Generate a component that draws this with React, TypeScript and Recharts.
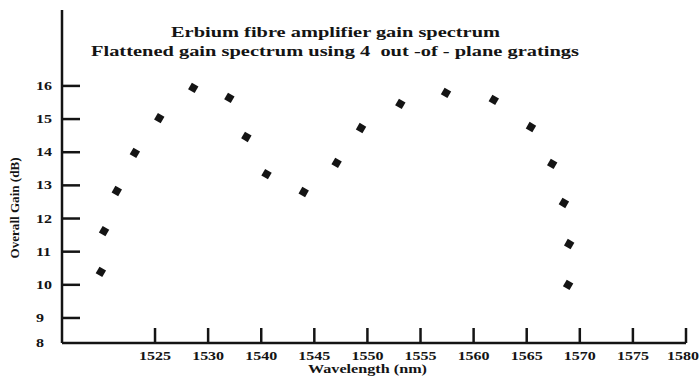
import React from 'react';
import { ScatterChart, Scatter, XAxis, YAxis } from 'recharts';

// wavelength, nm (read against the 1540…1580 part of the axis)
const wavelengthNm = [
  1524.9, 1525.2, 1526.4, 1528.1, 1530.4, 1533.6, 1537.0, 1538.6, 1540.5, 1544.0,
  1547.1, 1549.4, 1553.1, 1557.4, 1561.9, 1565.4, 1567.4, 1568.5, 1569.0, 1568.9,
];
const gainDb = [
  10.39, 11.62, 12.83, 13.98, 15.03, 15.94, 15.64, 14.46, 13.34, 12.8,
  13.68, 14.73, 15.46, 15.79, 15.58, 14.76, 13.65, 12.47, 11.23, 10.0,
];

// tick marks every 5 nm; the first two printed labels read 1525 and 1530
const xTicks = [1530, 1535, 1540, 1545, 1550, 1555, 1560, 1565, 1570, 1575, 1580];
const xTickLabels = ['1525', '1530', '1540', '1545', '1550', '1555', '1560', '1565', '1570', '1575', '1580'];
const yTicks = [8.245, 9, 10, 11, 12, 13, 14, 15, 16];
const yTickLabels = ['8', '9', '10', '11', '12', '13', '14', '15', '16'];

const data = wavelengthNm.map((x, i) => ({ x, y: gainDb[i] }));

const INK = '#141414';
const FONT = '"Liberation Serif", "Times New Roman", serif';

const XTick = (props: any) => {
  const { x, y, index } = props;
  const last = index === xTickLabels.length - 1;
  // keep the last label inside the frame
  const tx = last ? 699 : x;
  return (
    <g>
      <line x1={x} x2={x} y1={y} y2={y - 15} stroke={INK} strokeWidth={2.5} />
      <text
        transform={`translate(${tx},${y + 16.5}) scale(1.28,1)`}
        textAnchor={last ? 'end' : 'middle'}
        fontFamily={FONT}
        fontWeight="bold"
        fontSize={12.5}
        fill={INK}
      >
        {xTickLabels[index]}
      </text>
    </g>
  );
};

const YTick = (props: any) => {
  const { x, y, index } = props;
  return (
    <g>
      {index > 0 && <line x1={x} x2={x + 18} y1={y} y2={y} stroke={INK} strokeWidth={2.5} />}
      <text
        transform={`translate(36,${y + 4}) scale(1.28,1)`}
        textAnchor="start"
        fontFamily={FONT}
        fontWeight="bold"
        fontSize={12.5}
        fill={INK}
      >
        {yTickLabels[index]}
      </text>
    </g>
  );
};

const Marker = (props: any) => {
  const { cx, cy } = props;
  return (
    <rect
      x={cx - 3.8}
      y={cy - 3.8}
      width={7.6}
      height={7.6}
      fill={INK}
      transform={`rotate(30 ${cx} ${cy})`}
    />
  );
};

export default function App() {
  return (
    <div style={{ position: 'absolute', left: 0, top: 0, width: 700, height: 380, background: '#fff' }}>
      <ScatterChart width={700} height={380} margin={{ top: 10, right: 14, bottom: 0, left: 0 }}>
        <XAxis
          type="number"
          dataKey="x"
          domain={[1521.24, 1580]}
          ticks={xTicks}
          height={37}
          tickSize={0}
          tickMargin={0}
          tickLine={false}
          axisLine={{ stroke: INK, strokeWidth: 2.5 }}
          tick={(p: any) => <XTick {...p} />}
          interval={0}
          allowDataOverflow
        />
        <YAxis
          type="number"
          dataKey="y"
          domain={[8.245, 18.29]}
          ticks={yTicks}
          width={62}
          tickSize={0}
          tickMargin={0}
          tickLine={false}
          axisLine={{ stroke: INK, strokeWidth: 2.5 }}
          tick={(p: any) => <YTick {...p} />}
          interval={0}
          allowDataOverflow
        />
        <Scatter data={data} fill={INK} shape={(p: any) => <Marker {...p} />} isAnimationActive={false} />
        <text x={335.5} y={37} textAnchor="middle" fontFamily={FONT} fontWeight="bold" fontSize={15} fill={INK}
          textLength={329} lengthAdjust="spacingAndGlyphs">
          Erbium fibre amplifier gain spectrum
        </text>
        <text x={335} y={56} textAnchor="middle" fontFamily={FONT} fontWeight="bold" fontSize={15} fill={INK}
          textLength={488} lengthAdjust="spacingAndGlyphs" style={{ whiteSpace: 'pre' }}>
          {'Flattened gain spectrum using 4  out -of - plane gratings'}
        </text>
        <text x={367.5} y={373} textAnchor="middle" fontFamily={FONT} fontWeight="bold" fontSize={12.5} fill={INK}
          textLength={119} lengthAdjust="spacingAndGlyphs">
          Wavelength (nm)
        </text>
        <text transform="translate(19,208) rotate(-90)" textAnchor="middle" fontFamily={FONT} fontWeight="bold"
          fontSize={12} fill={INK} textLength={101} lengthAdjust="spacingAndGlyphs">
          Overall Gain (dB)
        </text>
      </ScatterChart>
    </div>
  );
}
